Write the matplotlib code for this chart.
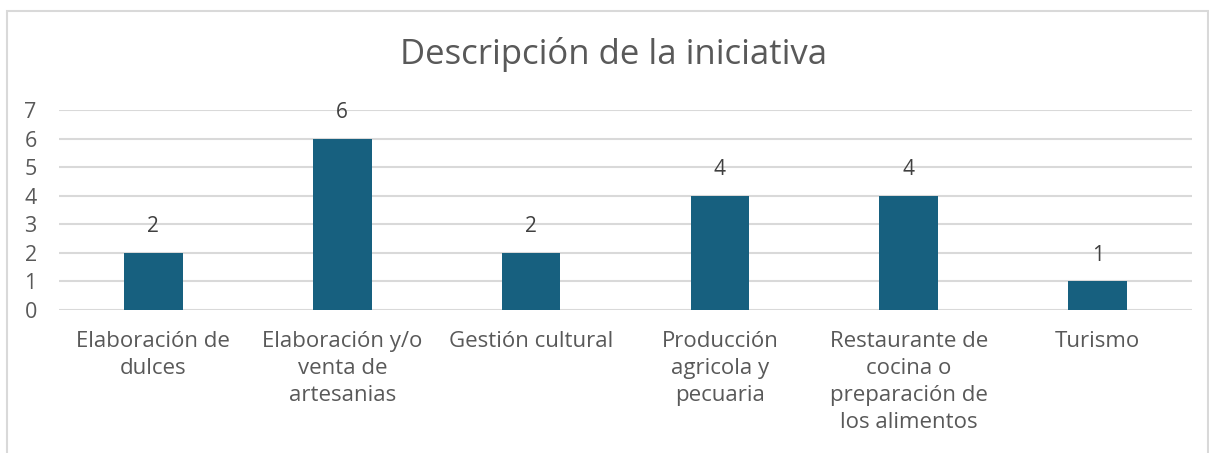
import matplotlib.pyplot as plt
from matplotlib.patches import Rectangle

# datos del grafico
categorias = ["Elaboración de\ndulces", "Elaboración y/o\nventa de\nartesanias",
              "Gestión cultural", "Producción\nagricola y\npecuaria",
              "Restaurante de\ncocina o\npreparación de\nlos alimentos", "Turismo"]
valores = [2, 6, 2, 4, 4, 1]
ticks_y = [0, 1, 2, 3, 4, 5, 6, 7]

titulo = "Descripción de la iniciativa"
color_barra = "#17607F"
color_texto = "#595959"
color_grid = "#D9D9D9"

plt.rcParams['font.family'] = ['Open Sans', 'DejaVu Sans']

fig = plt.figure(figsize=(12.09, 4.53), dpi=100)
ax = fig.add_axes([59 / 1209, 1 - 310 / 453, (1192 - 59) / 1209, 200 / 453])

x = list(range(len(categorias)))
barras = ax.bar(x, valores, width=0.31, color=color_barra, zorder=3)

for xi, v in zip(x, valores):
    ax.annotate(str(v), (xi, v), xytext=(0, 19), textcoords='offset points',
                ha='center', va='center', fontsize=15, color="#404040")

ax.set_xlim(-0.5, len(categorias) - 0.5)
ax.set_ylim(0, 7)
ax.set_yticks(ticks_y)
ax.set_xticks(x)
ax.set_xticklabels(categorias, linespacing=1.38)
ax.tick_params(axis='y', length=0, pad=16, labelsize=15.5, labelcolor=color_texto)
ax.tick_params(axis='x', length=0, pad=15, labelsize=16, labelcolor=color_texto)
for lab in ax.get_yticklabels():
    lab.set_horizontalalignment('right')

ax.grid(axis='y', color=color_grid, linewidth=1.5, zorder=0)
for s in ax.spines.values():
    s.set_visible(False)

fig.text(614 / 1209, 1 - 55 / 453, titulo, ha='center', va='center',
         fontsize=25, color=color_texto)

# borde del area del grafico
borde = Rectangle((7 / 1209, -0.2), (1208 - 7) / 1209, 1.2 - 11 / 453,
                  transform=fig.transFigure, fill=False, edgecolor="#D9D9D9",
                  linewidth=1.5, clip_on=False)
fig.patches.append(borde)

fig.savefig("out.png", dpi=100)
